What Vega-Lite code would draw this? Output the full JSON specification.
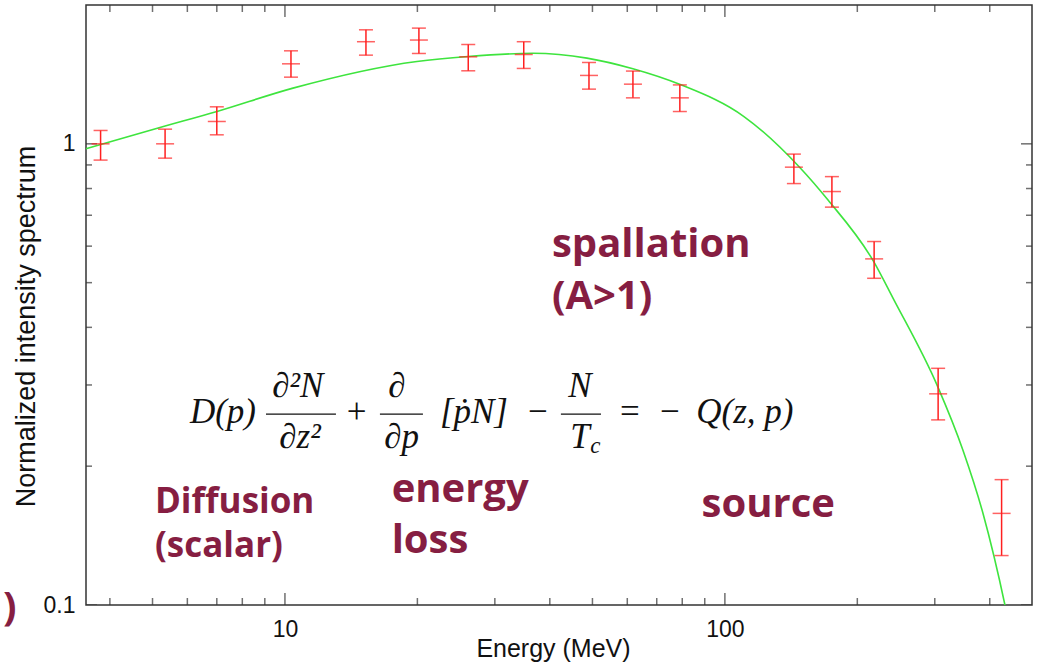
{
  "$schema": "https://vega.github.io/schema/vega-lite/v6.json",
  "width": 946,
  "height": 600,
  "autosize": {"type": "none"},
  "padding": {"left": 86, "top": 5, "right": 7, "bottom": 62},
  "background": "white",
  "config": {
    "view": {"stroke": "#333", "strokeWidth": 1.5},
    "axis": {"domain": false, "grid": false, "tickColor": "#333", "tickWidth": 1.5, "labelFont": "Liberation Sans", "labelFontSize": 23, "labelColor": "#111", "titleFont": "Liberation Sans", "titleFontSize": 25, "titleFontWeight": "normal", "titleColor": "#111", "labelFlush": false, "labelOverlap": false}
  },
  "datasets": {
    "points": [
      {"E": 3.81, "I": 1.0, "lo": 0.922, "hi": 1.069},
      {"E": 5.34, "I": 1.0, "lo": 0.931, "hi": 1.076},
      {"E": 7.0, "I": 1.118, "lo": 1.046, "hi": 1.203},
      {"E": 10.32, "I": 1.491, "lo": 1.395, "hi": 1.591},
      {"E": 15.28, "I": 1.665, "lo": 1.557, "hi": 1.767},
      {"E": 20.16, "I": 1.679, "lo": 1.57, "hi": 1.782},
      {"E": 26.1, "I": 1.544, "lo": 1.44, "hi": 1.642},
      {"E": 34.9, "I": 1.562, "lo": 1.457, "hi": 1.665},
      {"E": 49.1, "I": 1.407, "lo": 1.314, "hi": 1.501},
      {"E": 61.8, "I": 1.347, "lo": 1.258, "hi": 1.438},
      {"E": 79.0, "I": 1.258, "lo": 1.175, "hi": 1.342},
      {"E": 143.5, "I": 0.89, "lo": 0.82, "hi": 0.95},
      {"E": 175.1, "I": 0.788, "lo": 0.729, "hi": 0.849},
      {"E": 218.4, "I": 0.563, "lo": 0.511, "hi": 0.614},
      {"E": 305.3, "I": 0.287, "lo": 0.252, "hi": 0.326},
      {"E": 425.6, "I": 0.158, "lo": 0.128, "hi": 0.187}
    ],
    "curve": [
      {"E": 3.529, "I": 0.9753},
      {"E": 5.198, "I": 1.0848},
      {"E": 7.007, "I": 1.1753},
      {"E": 10.43, "I": 1.3205},
      {"E": 19.95, "I": 1.5085},
      {"E": 26.06, "I": 1.5466},
      {"E": 36.61, "I": 1.5715},
      {"E": 48.57, "I": 1.5343},
      {"E": 61.8, "I": 1.4548},
      {"E": 79.43, "I": 1.3428},
      {"E": 110.5, "I": 1.146},
      {"E": 147.3, "I": 0.8929},
      {"E": 171.4, "I": 0.7561},
      {"E": 218.1, "I": 0.5546},
      {"E": 240.9, "I": 0.4634},
      {"E": 304.8, "I": 0.2972},
      {"E": 347.5, "I": 0.2169},
      {"E": 385.9, "I": 0.1583},
      {"E": 433.1, "I": 0.1},
      {"E": 440.0, "I": 0.093}
    ],
    "xMajor": [{"v": 10}, {"v": 100}],
    "xMinor": [{"v": 4}, {"v": 5}, {"v": 6}, {"v": 7}, {"v": 8}, {"v": 9}, {"v": 20}, {"v": 30}, {"v": 40}, {"v": 50}, {"v": 60}, {"v": 70}, {"v": 80}, {"v": 90}, {"v": 200}, {"v": 300}, {"v": 400}],
    "yMajor": [{"v": 0.1}, {"v": 1}],
    "yMinor": [{"v": 0.2}, {"v": 0.3}, {"v": 0.4}, {"v": 0.5}, {"v": 0.6}, {"v": 0.7}, {"v": 0.8}, {"v": 0.9}],
    "eqItalic": [
      {"x": 7.23, "y": 0.2482, "t": "D(p)"},
      {"x": 10.70, "y": 0.2826, "t": "∂²N"},
      {"x": 10.82, "y": 0.2187, "t": "∂z²"},
      {"x": 17.97, "y": 0.2826, "t": "∂"},
      {"x": 18.42, "y": 0.2187, "t": "∂p"},
      {"x": 26.89, "y": 0.2482, "t": "[ṗN]"},
      {"x": 46.83, "y": 0.2826, "t": "N"},
      {"x": 46.83, "y": 0.2187, "t": "T"},
      {"x": 111.0, "y": 0.2482, "t": "Q(z, p)"}
    ],
    "eqUpright": [
      {"x": 14.55, "y": 0.2482, "t": "+"},
      {"x": 37.58, "y": 0.2482, "t": "−"},
      {"x": 60.83, "y": 0.2482, "t": "="},
      {"x": 74.99, "y": 0.2482, "t": "−"}
    ],
    "eqSub": [
      {"x": 50.8, "y": 0.2136, "t": "c"}
    ],
    "bars": [
      {"x1": 9.054, "x2": 13.06, "y": 0.2593},
      {"x1": 16.44, "x2": 20.59, "y": 0.2593},
      {"x1": 42.39, "x2": 52.28, "y": 0.2593}
    ],
    "notes": [
      {"x": 40.45, "y": 0.5687, "t": "spallation"},
      {"x": 40.45, "y": 0.4385, "t": "(A>1)"},
      {"x": 5.064, "y": 0.1581, "t": "Diffusion"},
      {"x": 5.064, "y": 0.1273, "t": "(scalar)"},
      {"x": 17.48, "y": 0.1675, "t": "energy"},
      {"x": 17.48, "y": 0.1295, "t": "loss"},
      {"x": 88.5, "y": 0.1554, "t": "source"},
      {"x": 2.287, "y": 0.0928, "t": ")"}
    ]
  },
  "layer": [
    {
      "data": {"name": "curve"},
      "mark": {"type": "line", "color": "#3ee43e", "strokeWidth": 1.6, "interpolate": "monotone", "clip": true},
      "encoding": {
        "x": {"field": "E", "type": "quantitative", "scale": {"type": "log", "domain": [3.53, 499], "nice": false},
          "axis": {"orient": "bottom", "values": [10, 100], "ticks": false, "tickSize": 0, "labelExpr": "datum.value == 10 ? '10' : '100'", "labelPadding": 13, "labelBaseline": "top", "title": "Energy (MeV)", "titleX": 467, "titleY": 51.7, "titleBaseline": "alphabetic"}},
        "y": {"field": "I", "type": "quantitative", "scale": {"type": "log", "domain": [0.1, 2.0], "nice": false},
          "axis": {"orient": "left", "values": [0.1, 1], "ticks": false, "tickSize": 0, "labelExpr": "datum.value == 1 ? '1' : '0.1'", "labelPadding": 11, "title": "Normalized intensity spectrum", "titleFontSize": 27, "titleX": -46, "titleY": 321, "titleAngle": -90, "titleBaseline": "bottom"}}
      }
    },
    {
      "data": {"name": "xMajor"},
      "mark": {"type": "tick", "orient": "vertical", "size": 24, "thickness": 1.5, "color": "#333", "clip": true},
      "encoding": {"x": {"field": "v", "type": "quantitative", "axis": null}, "y": {"datum": 0.1, "type": "quantitative", "axis": null}}
    },
    {
      "data": {"name": "xMajor"},
      "mark": {"type": "tick", "orient": "vertical", "size": 24, "thickness": 1.5, "color": "#333", "clip": true},
      "encoding": {"x": {"field": "v", "type": "quantitative", "axis": null}, "y": {"datum": 2.0, "type": "quantitative", "axis": null}}
    },
    {
      "data": {"name": "xMinor"},
      "mark": {"type": "tick", "orient": "vertical", "size": 14, "thickness": 1.5, "color": "#333", "clip": true},
      "encoding": {"x": {"field": "v", "type": "quantitative", "axis": null}, "y": {"datum": 0.1, "type": "quantitative", "axis": null}}
    },
    {
      "data": {"name": "xMinor"},
      "mark": {"type": "tick", "orient": "vertical", "size": 14, "thickness": 1.5, "color": "#333", "clip": true},
      "encoding": {"x": {"field": "v", "type": "quantitative", "axis": null}, "y": {"datum": 2.0, "type": "quantitative", "axis": null}}
    },
    {
      "data": {"name": "yMajor"},
      "mark": {"type": "tick", "orient": "horizontal", "size": 22, "thickness": 1.5, "color": "#333", "clip": true},
      "encoding": {"y": {"field": "v", "type": "quantitative", "axis": null}, "x": {"datum": 3.53, "type": "quantitative", "axis": null}}
    },
    {
      "data": {"name": "yMajor"},
      "mark": {"type": "tick", "orient": "horizontal", "size": 22, "thickness": 1.5, "color": "#333", "clip": true},
      "encoding": {"y": {"field": "v", "type": "quantitative", "axis": null}, "x": {"datum": 499, "type": "quantitative", "axis": null}}
    },
    {
      "data": {"name": "yMinor"},
      "mark": {"type": "tick", "orient": "horizontal", "size": 12, "thickness": 1.5, "color": "#333", "clip": true},
      "encoding": {"y": {"field": "v", "type": "quantitative", "axis": null}, "x": {"datum": 3.53, "type": "quantitative", "axis": null}}
    },
    {
      "data": {"name": "yMinor"},
      "mark": {"type": "tick", "orient": "horizontal", "size": 12, "thickness": 1.5, "color": "#333", "clip": true},
      "encoding": {"y": {"field": "v", "type": "quantitative", "axis": null}, "x": {"datum": 499, "type": "quantitative", "axis": null}}
    },
    {
      "data": {"name": "points"},
      "mark": {"type": "rule", "color": "#ff2020", "strokeWidth": 1.5},
      "encoding": {
        "x": {"field": "E", "type": "quantitative", "axis": null},
        "y": {"field": "lo", "type": "quantitative", "axis": null},
        "y2": {"field": "hi"}
      }
    },
    {
      "data": {"name": "points"},
      "mark": {"type": "tick", "orient": "horizontal", "size": 14, "thickness": 1.5, "color": "#ff2020"},
      "encoding": {
        "x": {"field": "E", "type": "quantitative", "axis": null},
        "y": {"field": "lo", "type": "quantitative", "axis": null}
      }
    },
    {
      "data": {"name": "points"},
      "mark": {"type": "tick", "orient": "horizontal", "size": 14, "thickness": 1.5, "color": "#ff2020"},
      "encoding": {
        "x": {"field": "E", "type": "quantitative", "axis": null},
        "y": {"field": "hi", "type": "quantitative", "axis": null}
      }
    },
    {
      "data": {"name": "points"},
      "mark": {"type": "tick", "orient": "horizontal", "size": 18, "thickness": 1.5, "color": "#ff2020"},
      "encoding": {
        "x": {"field": "E", "type": "quantitative", "axis": null},
        "y": {"field": "I", "type": "quantitative", "axis": null}
      }
    },
    {
      "data": {"name": "bars"},
      "mark": {"type": "rule", "color": "#111", "strokeWidth": 1.3},
      "encoding": {
        "x": {"field": "x1", "type": "quantitative", "axis": null},
        "x2": {"field": "x2"},
        "y": {"field": "y", "type": "quantitative", "axis": null}
      }
    },
    {
      "data": {"name": "eqItalic"},
      "mark": {"type": "text", "font": "Liberation Serif", "fontStyle": "italic", "fontSize": 35, "color": "#111", "align": "center", "baseline": "alphabetic"},
      "encoding": {
        "x": {"field": "x", "type": "quantitative", "axis": null},
        "y": {"field": "y", "type": "quantitative", "axis": null},
        "text": {"field": "t"}
      }
    },
    {
      "data": {"name": "eqUpright"},
      "mark": {"type": "text", "font": "Liberation Serif", "fontSize": 35, "color": "#111", "align": "center", "baseline": "alphabetic"},
      "encoding": {
        "x": {"field": "x", "type": "quantitative", "axis": null},
        "y": {"field": "y", "type": "quantitative", "axis": null},
        "text": {"field": "t"}
      }
    },
    {
      "data": {"name": "eqSub"},
      "mark": {"type": "text", "font": "Liberation Serif", "fontStyle": "italic", "fontSize": 23, "color": "#111", "align": "center", "baseline": "alphabetic"},
      "encoding": {
        "x": {"field": "x", "type": "quantitative", "axis": null},
        "y": {"field": "y", "type": "quantitative", "axis": null},
        "text": {"field": "t"}
      }
    },
    {
      "data": {"name": "notes"},
      "transform": [{"filter": "datum.t != 'Diffusion' && datum.t != '(scalar)'"}],
      "mark": {"type": "text", "font": "Open Sans", "fontWeight": "bold", "fontSize": 40, "color": "#861e42", "align": "left", "baseline": "alphabetic"},
      "encoding": {
        "x": {"field": "x", "type": "quantitative", "axis": null},
        "y": {"field": "y", "type": "quantitative", "axis": null},
        "text": {"field": "t"}
      }
    },
    {
      "data": {"name": "notes"},
      "transform": [{"filter": "datum.t == 'Diffusion' || datum.t == '(scalar)'"}],
      "mark": {"type": "text", "font": "Open Sans", "fontWeight": "bold", "fontSize": 35, "color": "#861e42", "align": "left", "baseline": "alphabetic"},
      "encoding": {
        "x": {"field": "x", "type": "quantitative", "axis": null},
        "y": {"field": "y", "type": "quantitative", "axis": null},
        "text": {"field": "t"}
      }
    }
  ],
  "resolve": {"axis": {"x": "independent", "y": "independent"}}
}
